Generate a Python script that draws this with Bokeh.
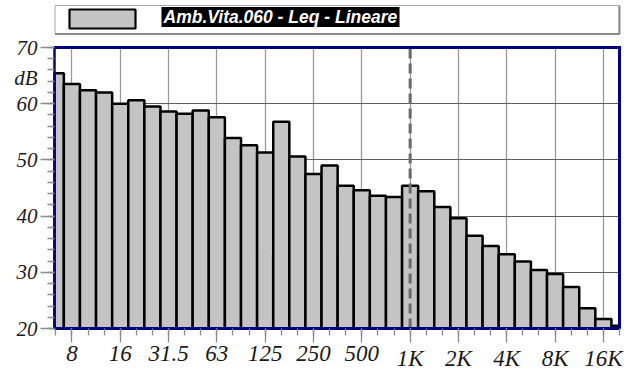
from bokeh.plotting import figure
from bokeh.models import Range1d, FixedTicker
from bokeh.core.properties import value
from bokeh.embed import file_html
from bokeh.resources import INLINE

# Third-octave bands 6.3 Hz .. 20 kHz
bands = ["6.3", "8", "10", "12.5", "16", "20", "25", "31.5", "40", "50", "63", "80",
         "100", "125", "160", "200", "250", "315", "400", "500", "630", "800",
         "1K", "1.25K", "1.6K", "2K", "2.5K", "3.15K", "4K", "5K", "6.3K", "8K",
         "10K", "12.5K", "16K", "20K"]
leq = [65.4, 63.5, 62.4, 62.0, 60.0, 60.6, 59.5, 58.6, 58.2, 58.8, 57.6, 53.9,
       52.6, 51.3, 56.8, 50.6, 47.5, 49.0, 45.4, 44.6, 43.6, 43.4,
       45.4, 44.4, 41.6, 39.6, 36.5, 34.7, 33.2, 31.9, 30.4, 29.7,
       27.4, 23.6, 21.7, 20.5]
tick_labels = ["8", "16", "31.5", "63", "125", "250", "500", "1K", "2K", "4K", "8K", "16K"]
y_ticks = [20, 30, 40, 50, 60, 70]
y_tick_labels = ["20", "30", "40", "50", "60", "70"]
unit_label = "dB"
unit_pos = 64.6
legend_text = "Amb.Vita.060 - Leq - Lineare"
marker_band = "1K"

# ---- layout constants (pixels) ----
W, H = 633, 370
PL, PR, PT, PB = 54, 619, 47, 328          # plot area edges
X0, X1 = -0.08, 35.0                        # visible band-index range of plot area
Y0, Y1 = 20, 70
sx = (PR - PL) / (X1 - X0)
sy = (PB - PT) / (Y1 - Y0)

idx = list(range(len(bands)))
major_idx = [bands.index(t) for t in tick_labels]

BAR_FILL = "#c4c4c4"
NAVY = "#000080"
SERIF = "'Liberation Serif'"

p = figure(width=W, height=H,
           x_range=Range1d(X0 - PL / sx, X1 + (W - PR) / sx),
           y_range=Range1d(Y0 - (H - PB) / sy, Y1 + PT / sy),
           x_axis_location="above", y_axis_location="right",
           toolbar_location=None, output_backend="svg", min_border=0)
p.extra_x_ranges = {"px": Range1d(0, W)}
p.extra_y_ranges = {"px": Range1d(H, 0)}
p.outline_line_color = None

# ---- axes: drawn at the plot-area edges, ticks pointing outward ----
xax = p.xaxis[0]
yax = p.yaxis[0]
xax.fixed_location = Y0
yax.fixed_location = X0
xax.bounds = (X0, X1)
yax.bounds = (Y0, Y1)
xax.ticker = FixedTicker(ticks=major_idx, minor_ticks=idx)
yax.ticker = FixedTicker(ticks=y_ticks, minor_ticks=list(range(20, 71, 2)))
for ax in (xax, yax):
    ax.major_tick_out = 0
    ax.minor_tick_out = 0
    ax.major_tick_in = 14
    ax.minor_tick_in = 7
    ax.major_tick_line_color = "#8a8a8a"
    ax.minor_tick_line_color = "#8a8a8a"
    ax.major_tick_line_width = 1.3
    ax.minor_tick_line_width = 1.3
    ax.major_label_text_font_size = "0px"
    ax.major_label_standoff = 0
    ax.axis_line_color = NAVY
xax.major_label_overrides = {i: "" for i in major_idx}
yax.major_label_overrides = {v: "" for v in y_ticks}
xax.axis_line_width = 3
yax.axis_line_width = 2.5

# ---- grid limited to the plot area ----
p.xgrid.ticker = FixedTicker(ticks=major_idx)
p.ygrid.ticker = FixedTicker(ticks=y_ticks)
p.xgrid.grid_line_color = "#9a9a9a"
p.xgrid.grid_line_width = 1.3
p.ygrid.grid_line_color = "#606060"
p.ygrid.grid_line_width = 1
try:
    p.xgrid[0].cross_bounds = (Y0, Y1)
    p.ygrid[0].cross_bounds = (X0, X1)
except AttributeError:
    p.grid.visible = False
    p.segment(x0=major_idx, x1=major_idx, y0=Y0, y1=Y1, line_color="#9a9a9a", line_width=1.3)
    p.segment(x0=X0, x1=X1, y0=y_ticks, y1=y_ticks, line_color="#606060", line_width=1)

# ---- bars (clipped to the plot area) ----
p.quad(left=[max(i - 0.5, X0) for i in idx], right=[min(i + 0.5, X1) for i in idx],
       top=leq, bottom=Y0, fill_color=BAR_FILL, line_color="black", line_width=2.5)

# 1 kHz marker
mi = bands.index(marker_band)
p.segment(x0=[mi], x1=[mi], y0=[Y0], y1=[Y1], line_color="#6a6a6a", line_width=3,
          line_dash="10 5")

# top / right frame of the plot area
p.segment(x0=[X0 - 0.05, X1], y0=[Y1, Y0], x1=[X1, X1], y1=[Y1, Y1 + 0.27],
          line_color=NAVY, line_width=3)

# ---- tick labels (italic serif) ----
p.text(x=major_idx, y=Y0 - 17 / sy, text=tick_labels, text_align="center",
       text_baseline="top", text_font=value(SERIF), text_font_style="italic",
       text_font_size="23px", text_color="#1a1a1a")
p.text(x=X0 - 17 / sx, y=y_ticks, text=y_tick_labels, text_align="right",
       text_baseline="middle", text_font=value(SERIF), text_font_style="italic",
       text_font_size="21px", text_color="#1a1a1a")
p.text(x=[X0 - 17 / sx], y=[unit_pos], text=[unit_label], text_align="right",
       text_baseline="middle", text_font=value(SERIF), text_font_style="italic",
       text_font_size="21px", text_color="#1a1a1a")

# ---- legend box (pixel coordinates) ----
kw = dict(x_range_name="px", y_range_name="px")
p.quad(left=[54.5], right=[618.5], top=[5], bottom=[33], fill_color="white",
       line_color="#a8a8a8", line_width=1, **kw)
p.segment(x0=[54.5, 619], y0=[33.5, 5], x1=[619.5, 619], y1=[33.5, 33.5],
          line_color="#8c8c8c", line_width=2, **kw)
p.quad(left=[69], right=[135], top=[9], bottom=[28], fill_color=BAR_FILL,
       line_color="black", line_width=2.2, **kw)
p.quad(left=[161], right=[399], top=[6.5], bottom=[26.5], fill_color="black",
       line_color=None, **kw)
p.text(x=[163], y=[16.8], text=[legend_text], text_color="white",
       text_font=value("Liberation Sans"), text_font_style="bold italic",
       text_font_size="17.5px", text_baseline="middle", text_align="left", **kw)

open("out.html", "w").write(file_html(p, INLINE))
